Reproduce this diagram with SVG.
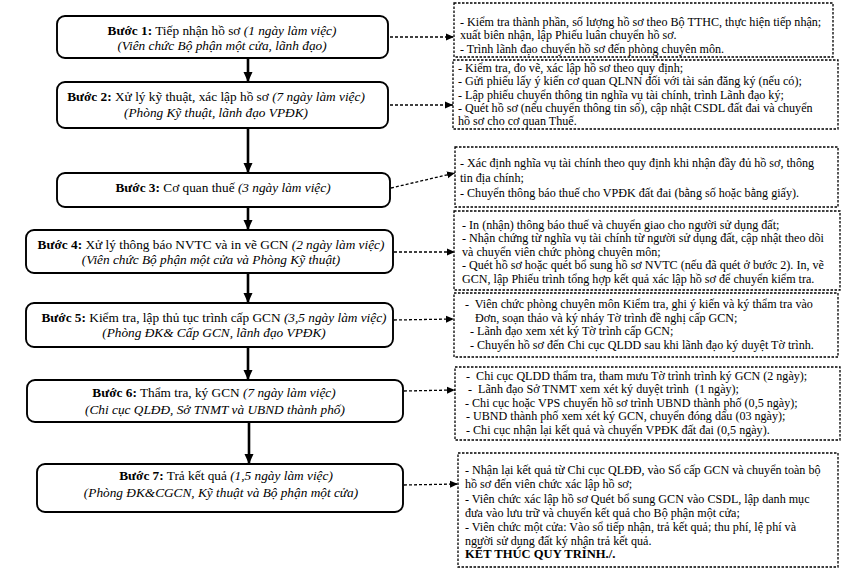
<svg xmlns="http://www.w3.org/2000/svg" width="849" height="576" viewBox="0 0 849 576">
<defs>
<marker id="ah" markerUnits="userSpaceOnUse" markerWidth="10" markerHeight="10" refX="10" refY="5" orient="auto"><path d="M0,0.5 L10,5 L0,9.5 z" fill="#000"/></marker>
<marker id="ahs" markerUnits="userSpaceOnUse" markerWidth="8" markerHeight="8" refX="8" refY="4" orient="auto"><path d="M0,0.5 L8,4 L0,7.5 z" fill="#000"/></marker>
</defs>
<style>
.step{fill:#fff;stroke:#000;stroke-width:1.9}
.note{fill:#fff;stroke:#000;stroke-width:1.3;stroke-dasharray:2.5 1.5}
.lt{font-family:"Liberation Serif","Times New Roman",serif;font-size:13.3px;fill:#000;text-anchor:middle}
.rt{font-family:"Liberation Serif","Times New Roman",serif;font-size:12.1px;fill:#000}
.b{font-weight:bold}
.i{font-style:italic}
.flow{stroke:#000;stroke-width:2.6;fill:none}
.dash{stroke:#000;stroke-width:1.3;fill:none;stroke-dasharray:3 2}
</style>
<rect width="849" height="576" fill="#fff"/>
<g id="connectors">
<line class="flow" x1="248" y1="58" x2="248" y2="82" marker-end="url(#ah)"/>
<line class="flow" x1="248" y1="128" x2="248" y2="173" marker-end="url(#ah)"/>
<line class="flow" x1="248" y1="207" x2="248" y2="230" marker-end="url(#ah)"/>
<line class="flow" x1="248" y1="273" x2="248" y2="303" marker-end="url(#ah)"/>
<line class="flow" x1="248" y1="347" x2="248" y2="380" marker-end="url(#ah)"/>
<line class="flow" x1="249" y1="422" x2="249" y2="464" marker-end="url(#ah)"/>
<line class="dash" x1="390" y1="37" x2="454" y2="37" marker-end="url(#ahs)"/>
<line class="dash" x1="390" y1="105" x2="453" y2="105" marker-end="url(#ahs)"/>
<line class="dash" x1="391" y1="188" x2="455" y2="173" marker-end="url(#ahs)"/>
<line class="dash" x1="394" y1="252" x2="455" y2="252" marker-end="url(#ahs)"/>
<line class="dash" x1="394" y1="320" x2="454" y2="319" marker-end="url(#ahs)"/>
<line class="dash" x1="404" y1="391" x2="455" y2="390" marker-end="url(#ahs)"/>
<line class="dash" x1="404" y1="485" x2="458" y2="484" marker-end="url(#ahs)"/>
</g>
<g id="step1">
<rect class="step" x="57" y="16" width="331" height="42" rx="8"/>
<text class="lt" x="222" y="35"><tspan class="b">Bước 1:</tspan> Tiếp nhận hồ sơ <tspan class="i">(1 ngày làm việc)</tspan></text>
<text class="lt i" x="222" y="50">(Viên chức Bộ phận một cửa, lãnh đạo)</text>
</g>
<g id="step2">
<rect class="step" x="57" y="82" width="331" height="46" rx="8"/>
<text class="lt" x="216" y="101"><tspan class="b">Bước 2:</tspan> Xử lý kỹ thuật, xác lập hồ sơ <tspan class="i">(7 ngày làm việc)</tspan></text>
<text class="lt i" x="216" y="117">(Phòng Kỹ thuật, lãnh đạo VPĐK)</text>
</g>
<g id="step3">
<rect class="step" x="57" y="173" width="333" height="34" rx="8"/>
<text class="lt" x="223" y="192"><tspan class="b">Bước 3:</tspan> Cơ quan thuế <tspan class="i">(3 ngày làm việc)</tspan></text>
</g>
<g id="step4">
<rect class="step" x="26" y="230" width="367" height="43" rx="8"/>
<text class="lt" x="211" y="249"><tspan class="b">Bước 4:</tspan> Xử lý thông báo NVTC và in vẽ GCN <tspan class="i">(2 ngày làm việc)</tspan></text>
<text class="lt i" x="211" y="264">(Viên chức Bộ phận một cửa và Phòng Kỹ thuật)</text>
</g>
<g id="step5">
<rect class="step" x="26" y="303" width="367" height="44" rx="8"/>
<text class="lt" x="214" y="322"><tspan class="b">Bước 5:</tspan> Kiểm tra, lập thủ tục trình cấp GCN <tspan class="i">(3,5 ngày làm việc)</tspan></text>
<text class="lt i" x="214" y="337">(Phòng ĐK&amp; Cấp GCN, lãnh đạo VPĐK)</text>
</g>
<g id="step6">
<rect class="step" x="27" y="380" width="376" height="42" rx="8"/>
<text class="lt" x="214" y="397"><tspan class="b">Bước 6:</tspan> Thẩm tra, ký GCN <tspan class="i">(7 ngày làm việc)</tspan></text>
<text class="lt i" x="215" y="414">(Chi cục QLĐĐ, Sở TNMT và UBND thành phố)</text>
</g>
<g id="step7">
<rect class="step" x="37" y="464" width="366" height="48" rx="8"/>
<text class="lt" x="226" y="480"><tspan class="b">Bước 7:</tspan> Trả kết quả <tspan class="i">(1,5 ngày làm việc)</tspan></text>
<text class="lt i" x="221" y="497">(Phòng ĐK&amp;CGCN, Kỹ thuật và Bộ phận một cửa)</text>
</g>
<g id="note1">
<rect class="note" x="454" y="3" width="379" height="54"/>
<text class="rt" x="460" y="25.5">- Kiểm tra thành phần, số lượng hồ sơ theo Bộ TTHC, thực hiện tiếp nhận;</text>
<text class="rt" x="460" y="39">xuất biên nhận, lập Phiếu luân chuyển hồ sơ.</text>
<text class="rt" x="460" y="52.5">- Trình lãnh đạo chuyển hồ sơ đến phòng chuyên môn.</text>
</g>
<g id="note2">
<rect class="note" x="453" y="60" width="385" height="69"/>
<text class="rt" x="458" y="71.5">- Kiểm tra, đo vẽ, xác lập hồ sơ theo quy định;</text>
<text class="rt" x="458" y="85">- Gửi phiếu lấy ý kiến cơ quan QLNN đối với tài sản đăng ký (nếu có);</text>
<text class="rt" x="458" y="98.5">- Lập phiếu chuyển thông tin nghĩa vụ tài chính, trình Lãnh đạo ký;</text>
<text class="rt" x="458" y="112">- Quét hồ sơ (nếu chuyển thông tin số), cập nhật CSDL đất đai và chuyển</text>
<text class="rt" x="458" y="125">hồ sơ cho cơ quan Thuế.</text>
</g>
<g id="note3">
<rect class="note" x="455" y="147" width="383" height="60"/>
<text class="rt" x="460" y="167">- Xác định nghĩa vụ tài chính theo quy định khi nhận đầy đủ hồ sơ, thông</text>
<text class="rt" x="460" y="182">tin địa chính;</text>
<text class="rt" x="460" y="197">- Chuyển thông báo thuế cho VPĐK đất đai (bằng số hoặc bằng giấy).</text>
</g>
<g id="note4">
<rect class="note" x="454" y="211" width="386" height="79"/>
<text class="rt" x="462" y="228.5">- In (nhận) thông báo thuế và chuyển giao cho người sử dụng đất;</text>
<text class="rt" x="462" y="242">- Nhận chứng từ nghĩa vụ tài chính từ người sử dụng đất, cập nhật theo dõi</text>
<text class="rt" x="462" y="255.5">và chuyển viên chức phòng chuyên môn;</text>
<text class="rt" x="462" y="269">- Quét hồ sơ hoặc quét bổ sung hồ sơ NVTC (nếu đã quét ở bước 2). In, vẽ</text>
<text class="rt" x="462" y="282.5">GCN, lập Phiếu trình tổng hợp kết quả xác lập hồ sơ để chuyển kiểm tra.</text>
</g>
<g id="note5">
<rect class="note" x="454" y="293" width="384" height="64"/>
<text class="rt" x="465" y="308" xml:space="preserve">-  Viên chức phòng chuyên môn Kiểm tra, ghi ý kiến và ký thẩm tra vào</text>
<text class="rt" x="475" y="321.5">Đơn, soạn thảo và ký nháy Tờ trình đề nghị cấp GCN;</text>
<text class="rt" x="470" y="335">- Lãnh đạo xem xét ký Tờ trình cấp GCN;</text>
<text class="rt" x="470" y="348.5">- Chuyển hồ sơ đến Chi cục QLDD sau khi lãnh đạo ký duyệt Tờ trình.</text>
</g>
<g id="note6">
<rect class="note" x="455" y="367" width="385" height="73"/>
<text class="rt" x="466" y="379.5" xml:space="preserve">-  Chi cục QLDD thẩm tra, tham mưu Tờ trình trình ký GCN (2 ngày);</text>
<text class="rt" x="468" y="393" xml:space="preserve">-  Lãnh đạo Sở TNMT xem xét ký duyệt trình  (1 ngày);</text>
<text class="rt" x="465" y="406.5">- Chi cục hoặc VPS chuyển hồ sơ trình UBND thành phố (0,5 ngày);</text>
<text class="rt" x="466" y="420">- UBND thành phố xem xét ký GCN, chuyển đóng dấu (03 ngày);</text>
<text class="rt" x="466" y="433.5">- Chi cục nhận lại kết quả và chuyển VPĐK đất đai (0,5 ngày).</text>
</g>
<g id="note7">
<rect class="note" x="458" y="453" width="380" height="114"/>
<text class="rt" x="465" y="474">- Nhận lại kết quả từ Chi cục QLĐĐ, vào Sổ cấp GCN và chuyển toàn bộ</text>
<text class="rt" x="465" y="488">hồ sơ đến viên chức xác lập hồ sơ;</text>
<text class="rt" x="465" y="503">- Viên chức xác lập hồ sơ Quét bổ sung GCN vào CSDL, lập danh mục</text>
<text class="rt" x="465" y="516.5">đưa vào lưu trữ và chuyển kết quả cho Bộ phận một cửa;</text>
<text class="rt" x="465" y="531">- Viên chức một cửa: Vào sổ tiếp nhận, trả kết quả; thu phí, lệ phí và</text>
<text class="rt" x="465" y="544.5">người sử dụng đất ký nhận trả kết quả.</text>
<text class="rt b" x="465" y="558" style="font-size:12.6px">KẾT THÚC QUY TRÌNH./.</text>
</g>
</svg>
